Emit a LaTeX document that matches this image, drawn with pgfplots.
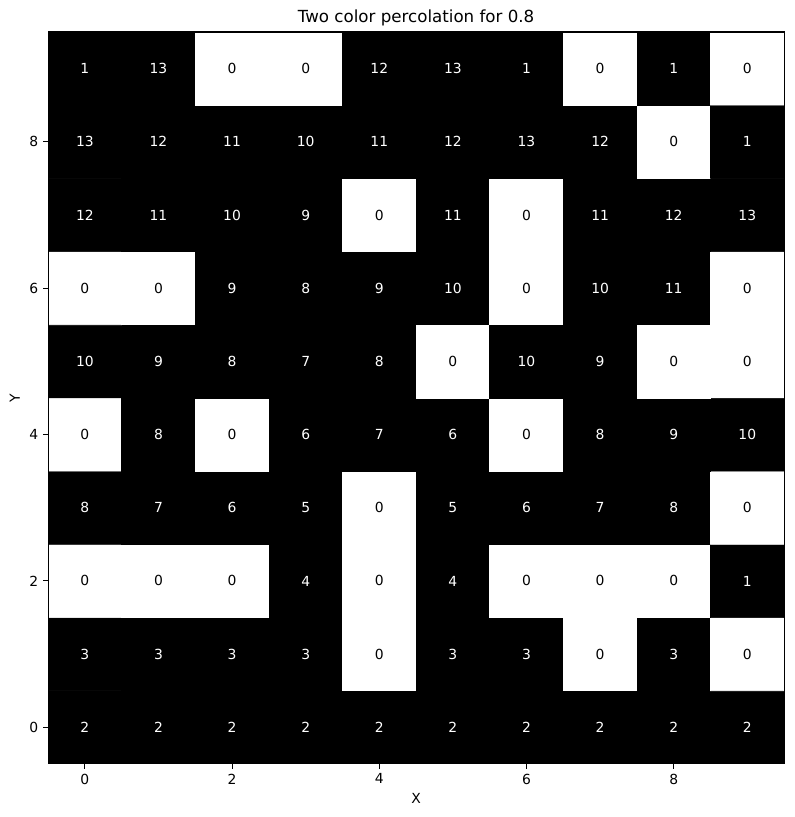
\documentclass[border=0pt]{standalone}
\usepackage{fontspec}
\setmainfont{DejaVu Sans}
\usepackage{pgfplots}
\usepackage{pgfplotstable}
\pgfplotsset{compat=1.18}
\pgfplotstableread{
x y z
0 0 2
1 0 2
2 0 2
3 0 2
4 0 2
5 0 2
6 0 2
7 0 2
8 0 2
9 0 2
0 1 3
1 1 3
2 1 3
3 1 3
4 1 0
5 1 3
6 1 3
7 1 0
8 1 3
9 1 0
0 2 0
1 2 0
2 2 0
3 2 4
4 2 0
5 2 4
6 2 0
7 2 0
8 2 0
9 2 1
0 3 8
1 3 7
2 3 6
3 3 5
4 3 0
5 3 5
6 3 6
7 3 7
8 3 8
9 3 0
0 4 0
1 4 8
2 4 0
3 4 6
4 4 7
5 4 6
6 4 0
7 4 8
8 4 9
9 4 10
0 5 10
1 5 9
2 5 8
3 5 7
4 5 8
5 5 0
6 5 10
7 5 9
8 5 0
9 5 0
0 6 0
1 6 0
2 6 9
3 6 8
4 6 9
5 6 10
6 6 0
7 6 10
8 6 11
9 6 0
0 7 12
1 7 11
2 7 10
3 7 9
4 7 0
5 7 11
6 7 0
7 7 11
8 7 12
9 7 13
0 8 13
1 8 12
2 8 11
3 8 10
4 8 11
5 8 12
6 8 13
7 8 12
8 8 0
9 8 1
0 9 1
1 9 13
2 9 0
3 9 0
4 9 12
5 9 13
6 9 1
7 9 0
8 9 1
9 9 0
}\grid
\begin{document}
\begin{tikzpicture}
\begin{axis}[
  at={(0,0)}, anchor=south west,
  scale only axis, width=529.9pt, height=527pt,
  xmin=-0.5, xmax=9.5, ymin=-0.5, ymax=9.5,
  xtick={0,2,4,6,8}, ytick={0,2,4,6,8},
  tick align=outside, tick pos=left,
  major tick length=3.5pt,
  every tick/.style={black, line width=0.8pt},
  axis line style={line width=0.8pt},
  tick label style={font=\fontsize{10}{12}\selectfont},
  /pgf/number format/assume math mode=true,
  xlabel={X}, ylabel={Y},
  label style={font=\fontsize{10}{12}\selectfont},
  title={Two color percolation for 0.8},
  title style={font=\fontsize{12}{14}\selectfont, yshift=-5.5pt},
  colormap={bw}{color=(white) color=(black)},
  point meta min=0, point meta max=1,
  axis on top,
  unbounded coords=discard,
]
\addplot[matrix plot*, mesh/cols=10, point meta=explicit] table[x=x, y=y, meta=z] {\grid};
\addplot[only marks, mark=none, nodes near coords={\pgfmathprintnumber{\pgfplotspointmeta}},
  point meta=explicit,
  every node near coord/.style={anchor=center, text=black, font=\fontsize{10}{12}\selectfont}]
  table[x=x, y expr={\thisrow{z}==0 ? \thisrow{y} : nan}, meta=z] {\grid};
\addplot[only marks, mark=none, nodes near coords={\pgfmathprintnumber{\pgfplotspointmeta}},
  point meta=explicit,
  every node near coord/.style={anchor=center, text=white, font=\fontsize{10}{12}\selectfont}]
  table[x=x, y expr={\thisrow{z}==0 ? nan : \thisrow{y}}, meta=z] {\grid};
\end{axis}
\pgfresetboundingbox
\path[use as bounding box] (-34.6pt,-38.2pt) rectangle (537.1pt,550pt);
\end{tikzpicture}
\end{document}
